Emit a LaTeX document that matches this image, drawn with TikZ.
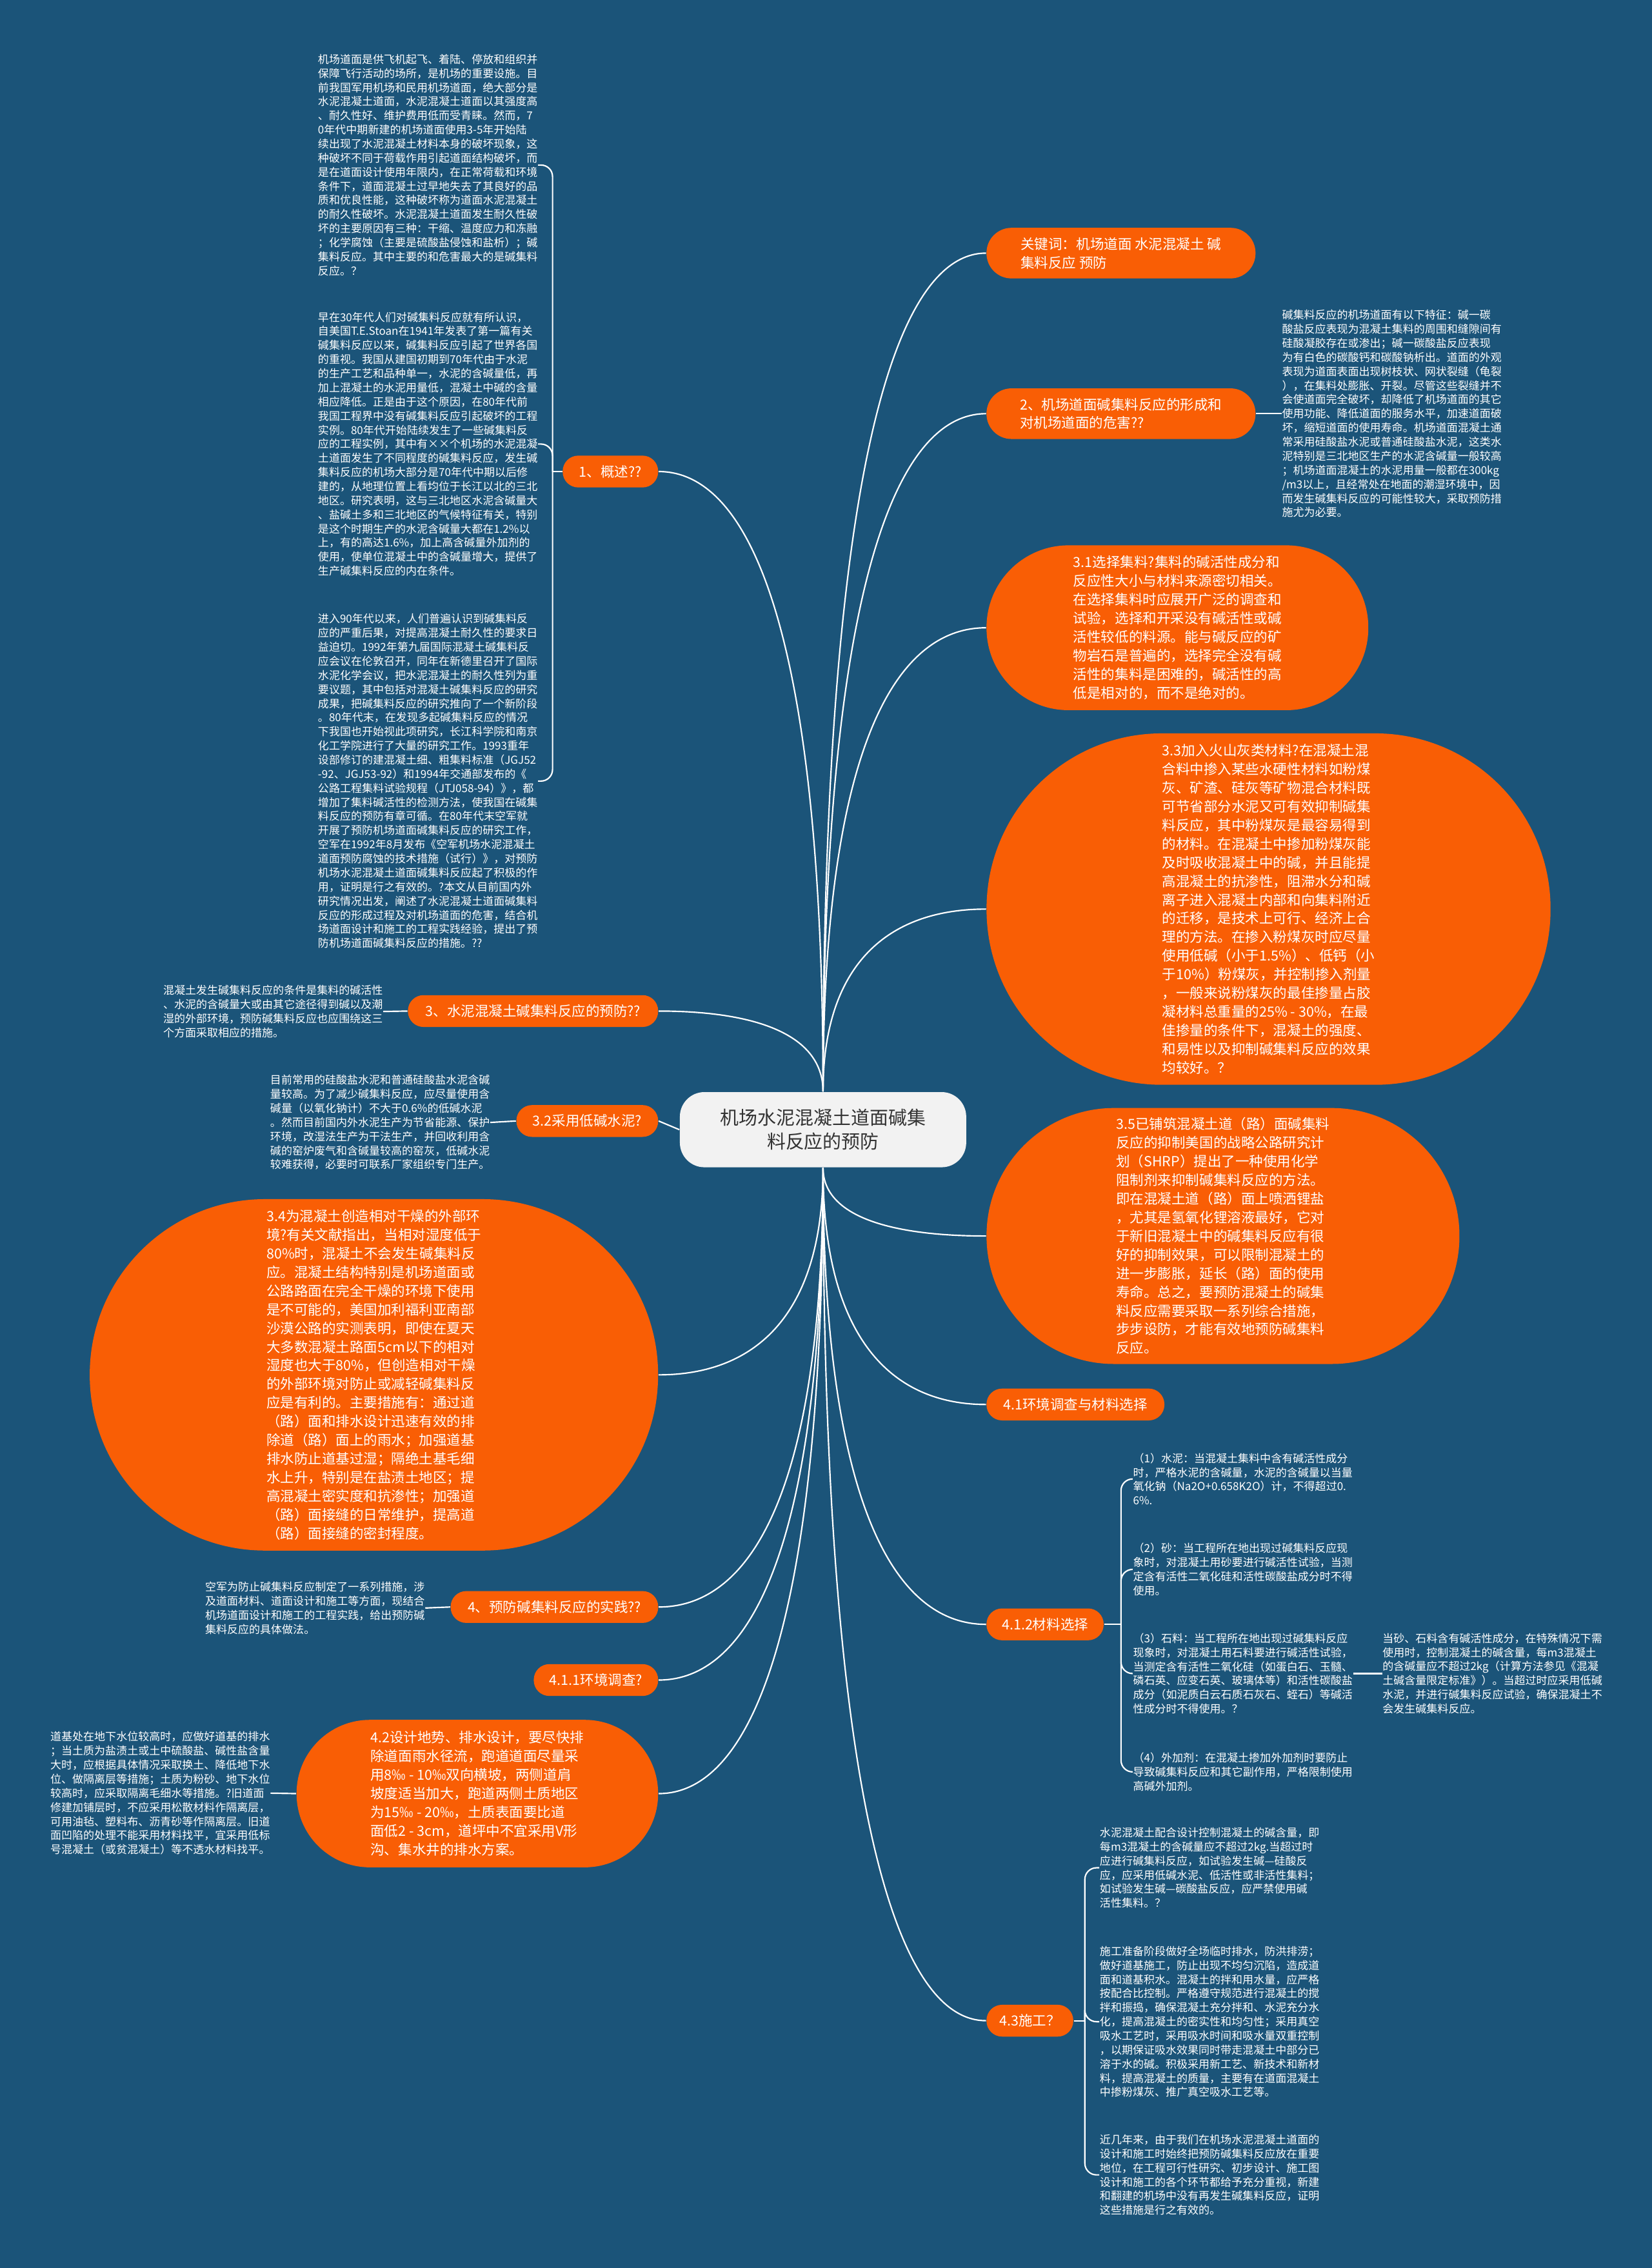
\documentclass[tikz,border=0pt]{standalone}
\usepackage{fontspec}
\newfontfamily\cjk{Noto Sans CJK SC}
\usetikzlibrary{calc}

\definecolor{bgblue}{HTML}{1B5479}
\definecolor{mmorange}{HTML}{F95E05}
\definecolor{ctrgray}{HTML}{F2F2F2}
\definecolor{ctrtext}{HTML}{333333}

\tikzset{
    ctrbox/.style={rectangle, rounded corners=0.34cm, fill=ctrgray, text=ctrtext, align=center,
        inner sep=0pt, minimum width=3.96cm, minimum height=1.04cm,
        font=\cjk\fontsize{7.34}{9.39}\selectfont},
    pill/.style={rectangle, rounded corners=#1, fill=mmorange, text=white, align=left,
        inner sep=0pt, font=\cjk\fontsize{5.46}{7.34}\selectfont},
    note/.style={text=white, align=left, inner sep=0pt,
        font=\cjk\fontsize{4.32}{5.55}\selectfont},
    edge/.style={draw=white, line width=0.55pt},
    fork/.style={edge, rounded corners=0.16cm},
}

\begin{document}
\begin{tikzpicture}[x=0.02cm, y=-0.02cm]
    % Background
    \useasboundingbox (0,0) rectangle (1142,1568);
    \fill[bgblue] (0,0) rectangle (1142,1568);

    % Center
    \node[ctrbox] (ctr) at (569,781) {机场水泥混凝土道面碱集\\料反应的预防};

    % Right branches
    \node[pill=0.345cm, minimum width=3.72cm, minimum height=0.70cm] (kw) at (775,175)
        {关键词：机场道面 水泥混凝土 碱\\集料反应 预防};
    \node[pill=0.345cm, minimum width=3.72cm, minimum height=0.70cm] (n2) at (775,286)
        {2、机场道面碱集料反应的形成和\\对机场道面的危害??};
    \node[pill=1.135cm, minimum width=5.28cm, minimum height=2.28cm] (n31) at (814,434)
        {3.1选择集料?集料的碱活性成分和\\反应性大小与材料来源密切相关。\\在选择集料时应展开广泛的调查和\\试验，选择和开采没有碱活性或碱\\活性较低的料源。能与碱反应的矿\\物岩石是普遍的，选择完全没有碱\\活性的集料是困难的，碱活性的高\\低是相对的，而不是绝对的。};
    \node[pill=2.425cm, minimum width=7.8cm, minimum height=4.86cm] (n33) at (877,628.5)
        {3.3加入火山灰类材料?在混凝土混\\合料中掺入某些水硬性材料如粉煤\\灰、矿渣、硅灰等矿物混合材料既\\可节省部分水泥又可有效抑制碱集\\料反应，其中粉煤灰是最容易得到\\的材料。在混凝土中掺加粉煤灰能\\及时吸收混凝土中的碱，并且能提\\高混凝土的抗渗性，阻滞水分和碱\\离子进入混凝土内部和向集料附近\\的迁移，是技术上可行、经济上合\\理的方法。在掺入粉煤灰时应尽量\\使用低碱（小于1.5\%）、低钙（小\\于10\%）粉煤灰，并控制掺入剂量\\，一般来说粉煤灰的最佳掺量占胶\\凝材料总重量的25\% - 30\%，在最\\佳掺量的条件下，混凝土的强度、\\和易性以及抑制碱集料反应的效果\\均较好。？};
    \node[pill=1.765cm, minimum width=6.54cm, minimum height=3.54cm] (n35) at (845.5,854.5)
        {3.5已铺筑混凝土道（路）面碱集料\\反应的抑制美国的战略公路研究计\\划（SHRP）提出了一种使用化学\\阻制剂来抑制碱集料反应的方法。\\即在混凝土道（路）面上喷洒锂盐\\，尤其是氢氧化锂溶液最好，它对\\于新旧混凝土中的碱集料反应有很\\好的抑制效果，可以限制混凝土的\\进一步膨胀，延长（路）面的使用\\寿命。总之，要预防混凝土的碱集\\料反应需要采取一系列综合措施，\\步步设防，才能有效地预防碱集料\\反应。};
    \node[pill=0.215cm, minimum width=2.46cm, minimum height=0.44cm] (n41) at (743.5,971)
        {4.1环境调查与材料选择};
    \node[pill=0.215cm, minimum width=1.62cm, minimum height=0.44cm] (n412) at (722.5,1123)
        {4.1.2材料选择};
    \node[pill=0.215cm, minimum width=1.20cm, minimum height=0.44cm] (n43) at (712,1397)
        {4.3施工？};

    % Left branches
    \node[pill=0.215cm, minimum width=1.32cm, minimum height=0.44cm] (n1) at (422,326)
        {1、概述??};
    \node[pill=0.215cm, minimum width=3.46cm, minimum height=0.44cm] (n3) at (368.5,699)
        {3、水泥混凝土碱集料反应的预防??};
    \node[pill=0.215cm, minimum width=1.96cm, minimum height=0.44cm] (n32) at (406,775)
        {3.2采用低碱水泥?};
    \node[pill=2.425cm, minimum width=7.86cm, minimum height=4.86cm] (n34) at (258.5,950.5)
        {3.4为混凝土创造相对干燥的外部环\\境?有关文献指出，当相对湿度低于\\80\%时，混凝土不会发生碱集料反\\应。混凝土结构特别是机场道面或\\公路路面在完全干燥的环境下使用\\是不可能的，美国加利福利亚南部\\沙漠公路的实测表明，即使在夏天\\大多数混凝土路面5cm以下的相对\\湿度也大于80\%，但创造相对干燥\\的外部环境对防止或减轻碱集料反\\应是有利的。主要措施有：通过道\\（路）面和排水设计迅速有效的排\\除道（路）面上的雨水；加强道基\\排水防止道基过湿；隔绝土基毛细\\水上升，特别是在盐渍土地区；提\\高混凝土密实度和抗渗性；加强道\\（路）面接缝的日常维护，提高道\\（路）面接缝的密封程度。};
    \node[pill=0.215cm, minimum width=2.87cm, minimum height=0.44cm] (n4) at (383.3,1111)
        {4、预防碱集料反应的实践??};
    \node[pill=0.215cm, minimum width=1.72cm, minimum height=0.44cm] (n411) at (412,1161.5)
        {4.1.1环境调查?};
    \node[pill=1.015cm, minimum width=5.0cm, minimum height=2.04cm] (n42) at (330,1240)
        {4.2设计地势、排水设计，要尽快排\\除道面雨水径流，跑道道面尽量采\\用8‰ - 10‰双向横坡，两侧道肩\\坡度适当加大，跑道两侧土质地区\\为15‰ - 20‰，土质表面要比道\\面低2 - 3cm，道坪中不宜采用V形\\沟、集水井的排水方案。};

    % Center to branches
    \foreach \s/\n/\a in {north/kw/west, north/n2/west, north/n31/west, north/n33/west,
                         north/n1/east, north/n3/east,
                         south/n35/west, south/n41/west, south/n412/west, south/n43/west,
                         south/n34/east, south/n4/east, south/n411/east, south/n42/east}
        \draw[edge] (ctr.\s) .. controls ($(ctr.\s)!0.7!(ctr.\s |- \n.\a)$)
            and ($(\n.\a)!0.6!(ctr.\s |- \n.\a)$) .. (\n.\a);
    \draw[edge] (ctr.west) -- (n32.east);

    % Notes of 1
    \node[note, anchor=east] (t1a) at (372,114.1)
        {机场道面是供飞机起飞、着陆、停放和组织并\\保障飞行活动的场所，是机场的重要设施。目\\前我国军用机场和民用机场道面，绝大部分是\\水泥混凝土道面，水泥混凝土道面以其强度高\\、耐久性好、维护费用低而受青睐。然而，7\\0年代中期新建的机场道面使用3-5年开始陆\\续出现了水泥混凝土材料本身的破坏现象，这\\种破坏不同于荷载作用引起道面结构破坏，而\\是在道面设计使用年限内，在正常荷载和环境\\条件下，道面混凝土过早地失去了其良好的品\\质和优良性能，这种破坏称为道面水泥混凝土\\的耐久性破坏。水泥混凝土道面发生耐久性破\\坏的主要原因有三种：干缩、温度应力和冻融\\；化学腐蚀（主要是硫酸盐侵蚀和盐析）；碱\\集料反应。其中主要的和危害最大的是碱集料\\反应。？};
    \node[note, anchor=east] (t1b) at (372,307)
        {早在30年代人们对碱集料反应就有所认识，\\自美国T.E.Stoan在1941年发表了第一篇有关\\碱集料反应以来，碱集料反应引起了世界各国\\的重视。我国从建国初期到70年代由于水泥\\的生产工艺和品种单一，水泥的含碱量低，再\\加上混凝土的水泥用量低，混凝土中碱的含量\\相应降低。正是由于这个原因，在80年代前\\我国工程界中没有碱集料反应引起破坏的工程\\实例。80年代开始陆续发生了一些碱集料反\\应的工程实例，其中有××个机场的水泥混凝\\土道面发生了不同程度的碱集料反应，发生碱\\集料反应的机场大部分是70年代中期以后修\\建的，从地理位置上看均位于长江以北的三北\\地区。研究表明，这与三北地区水泥含碱量大\\、盐碱土多和三北地区的气候特征有关，特别\\是这个时期生产的水泥含碱量大都在1.2\%以\\上，有的高达1.6\%，加上高含碱量外加剂的\\使用，使单位混凝土中的含碱量增大，提供了\\生产碱集料反应的内在条件。};
    \node[note, anchor=east] (t1c) at (372,540)
        {进入90年代以来，人们普遍认识到碱集料反\\应的严重后果，对提高混凝土耐久性的要求日\\益迫切。1992年第九届国际混凝土碱集料反\\应会议在伦敦召开，同年在新德里召开了国际\\水泥化学会议，把水泥混凝土的耐久性列为重\\要议题，其中包括对混凝土碱集料反应的研究\\成果，把碱集料反应的研究推向了一个新阶段\\。80年代末，在发现多起碱集料反应的情况\\下我国也开始视此项研究，长江科学院和南京\\化工学院进行了大量的研究工作。1993重年\\设部修订的建混凝土细、粗集料标准（JGJ52\\-92、JGJ53-92）和1994年交通部发布的《\\公路工程集料试验规程（JTJ058-94）》，都\\增加了集料碱活性的检测方法，使我国在碱集\\料反应的预防有章可循。在80年代末空军就\\开展了预防机场道面碱集料反应的研究工作，\\空军在1992年8月发布《空军机场水泥混凝土\\道面预防腐蚀的技术措施（试行）》，对预防\\机场水泥混凝土道面碱集料反应起了积极的作\\用，证明是行之有效的。?本文从目前国内外\\研究情况出发，阐述了水泥混凝土道面碱集料\\反应的形成过程及对机场道面的危害，结合机\\场道面设计和施工的工程实践经验，提出了预\\防机场道面碱集料反应的措施。??};
    \coordinate (j1) at (382,326);
    \draw[edge] (n1.west) -- (j1);
    \foreach \t in {t1a,t1b,t1c}
        \draw[fork] (j1) |- (\t.east);

    % Note of 2
    \node[note, anchor=west] (t2) at (886,286)
        {碱集料反应的机场道面有以下特征：碱一碳\\酸盐反应表现为混凝土集料的周围和缝隙间有\\硅酸凝胶存在或渗出；碱一碳酸盐反应表现\\为有白色的碳酸钙和碳酸钠析出。道面的外观\\表现为道面表面出现树枝状、网状裂缝（龟裂\\），在集料处膨胀、开裂。尽管这些裂缝并不\\会使道面完全破坏，却降低了机场道面的其它\\使用功能、降低道面的服务水平，加速道面破\\坏，缩短道面的使用寿命。机场道面混凝土通\\常采用硅酸盐水泥或普通硅酸盐水泥，这类水\\泥特别是三北地区生产的水泥含碱量一般较高\\；机场道面混凝土的水泥用量一般都在300kg\\/m3以上，且经常处在地面的潮湿环境中，因\\而发生碱集料反应的可能性较大，采取预防措\\施尤为必要。};
    \draw[edge] (n2.east) -- (t2.west);

    % Notes of 3, 3.2, 4, 4.2
    \node[note, anchor=east] (t3) at (265,699.3)
        {混凝土发生碱集料反应的条件是集料的碱活性\\、水泥的含碱量大或由其它途径得到碱以及潮\\湿的外部环境，预防碱集料反应也应围绕这三\\个方面采取相应的措施。};
    \draw[edge] (n3.west) -- (t3.east);
    \node[note, anchor=east] (t32) at (339,776)
        {目前常用的硅酸盐水泥和普通硅酸盐水泥含碱\\量较高。为了减少碱集料反应，应尽量使用含\\碱量（以氧化钠计）不大于0.6\%的低碱水泥\\。然而目前国内外水泥生产为节省能源、保护\\环境，改湿法生产为干法生产，并回收利用含\\碱的窑炉废气和含碱量较高的窑灰，低碱水泥\\较难获得，必要时可联系厂家组织专门生产。};
    \draw[edge] (n32.west) -- (t32.east);
    \node[note, anchor=east] (t4) at (294,1111.7)
        {空军为防止碱集料反应制定了一系列措施，涉\\及道面材料、道面设计和施工等方面，现结合\\机场道面设计和施工的工程实践，给出预防碱\\集料反应的具体做法。};
    \draw[edge] (n4.west) -- (t4.east);
    \node[note, anchor=east] (t42) at (187,1239.7)
        {道基处在地下水位较高时，应做好道基的排水\\；当土质为盐渍土或土中硫酸盐、碱性盐含量\\大时，应根据具体情况采取换土、降低地下水\\位、做隔离层等措施；土质为粉砂、地下水位\\较高时，应采取隔离毛细水等措施。?旧道面\\修建加铺层时，不应采用松散材料作隔离层，\\可用油毡、塑料布、沥青砂等作隔离层。旧道\\面凹陷的处理不能采用材料找平，宜采用低标\\号混凝土（或贫混凝土）等不透水材料找平。};
    \draw[edge] (n42.west) -- (t42.east);

    % Notes of 4.1.2
    \node[note, anchor=west] (m1) at (783,1022.5)
        {（1）水泥：当混凝土集料中含有碱活性成分\\时，严格水泥的含碱量，水泥的含碱量以当量\\氧化钠（Na2O+0.658K2O）计，不得超过0.\\6\%.};
    \node[note, anchor=west] (m2) at (783,1085)
        {（2）砂：当工程所在地出现过碱集料反应现\\象时，对混凝土用砂要进行碱活性试验，当测\\定含有活性二氧化硅和活性碳酸盐成分时不得\\使用。};
    \node[note, anchor=west] (m3) at (783,1157)
        {（3）石料：当工程所在地出现过碱集料反应\\现象时，对混凝土用石料要进行碱活性试验，\\当测定含有活性二氧化硅（如蛋白石、玉髓、\\磷石英、应变石英、玻璃体等）和活性碳酸盐\\成分（如泥质白云石质石灰石、蛭石）等碱活\\性成分时不得使用。？};
    \node[note, anchor=west] (m4) at (783,1225)
        {（4）外加剂：在混凝土掺加外加剂时要防止\\导致碱集料反应和其它副作用，严格限制使用\\高碱外加剂。};
    \node[note, anchor=west] (m3x) at (955.5,1157)
        {当砂、石料含有碱活性成分，在特殊情况下需\\使用时，控制混凝土的碱含量，每m3混凝土\\的含碱量应不超过2kg（计算方法参见《混凝\\土碱含量限定标准》）。当超过时应采用低碱\\水泥，并进行碱集料反应试验，确保混凝土不\\会发生碱集料反应。};
    \coordinate (j412) at (775,1123);
    \draw[edge] (n412.east) -- (j412);
    \foreach \t in {m1,m2,m3,m4}
        \draw[fork] (j412) |- (\t.west);
    \draw[edge] (m3.east) -- (m3x.west);

    % Notes of 4.3
    \node[note, anchor=west] (d1) at (760,1291.3)
        {水泥混凝土配合设计控制混凝土的碱含量，即\\每m3混凝土的含碱量应不超过2kg.当超过时\\应进行碱集料反应，如试验发生碱—硅酸反\\应，应采用低碱水泥、低活性或非活性集料；\\如试验发生碱—碳酸盐反应，应严禁使用碱\\活性集料。？};
    \node[note, anchor=west] (d2) at (760,1397.7)
        {施工准备阶段做好全场临时排水，防洪排涝；\\做好道基施工，防止出现不均匀沉陷，造成道\\面和道基积水。混凝土的拌和用水量，应严格\\按配合比控制。严格遵守规范进行混凝土的搅\\拌和振捣，确保混凝土充分拌和、水泥充分水\\化，提高混凝土的密实性和均匀性；采用真空\\吸水工艺时，采用吸水时间和吸水量双重控制\\，以期保证吸水效果同时带走混凝土中部分已\\溶于水的碱。积极采用新工艺、新技术和新材\\料，提高混凝土的质量，主要有在道面混凝土\\中掺粉煤灰、推广真空吸水工艺等。};
    \node[note, anchor=west] (d3) at (760,1503.6)
        {近几年来，由于我们在机场水泥混凝土道面的\\设计和施工时始终把预防碱集料反应放在重要\\地位，在工程可行性研究、初步设计、施工图\\设计和施工的各个环节都给予充分重视，新建\\和翻建的机场中没有再发生碱集料反应，证明\\这些措施是行之有效的。};
    \coordinate (j43) at (750,1397);
    \draw[edge] (n43.east) -- (j43);
    \foreach \t in {d1,d2,d3}
        \draw[fork] (j43) |- (\t.west);

\end{tikzpicture}
\end{document}
